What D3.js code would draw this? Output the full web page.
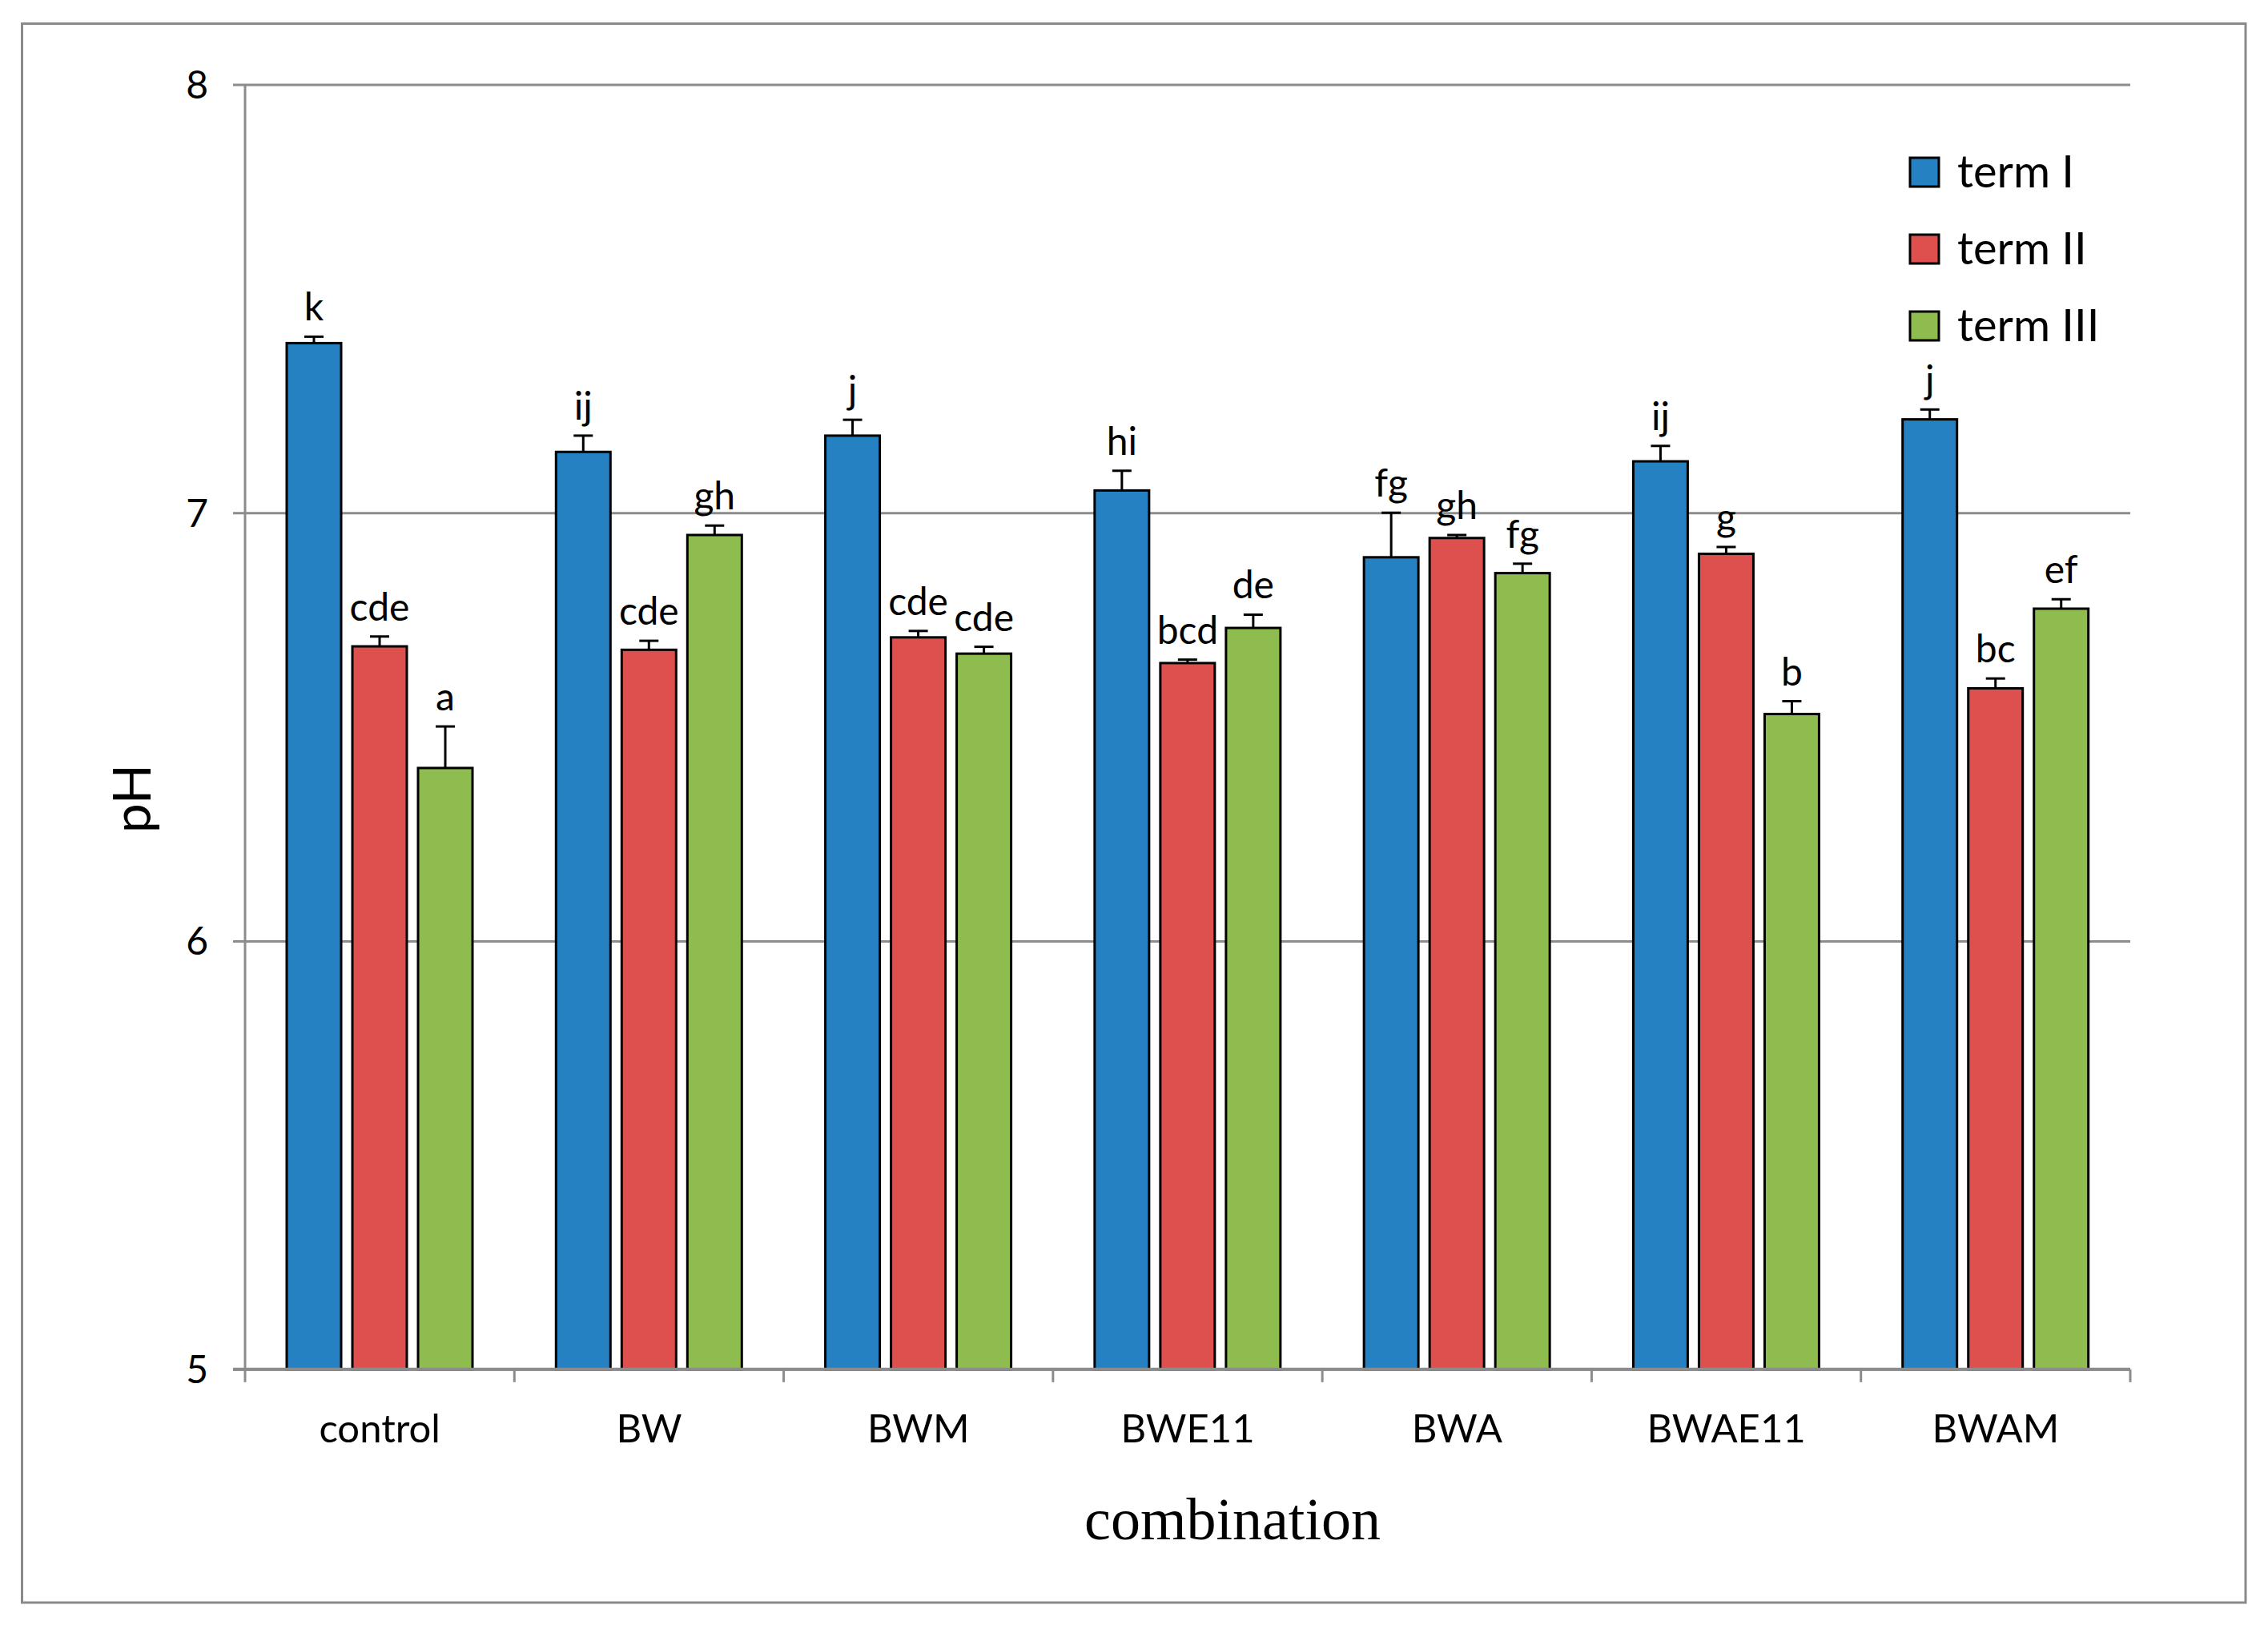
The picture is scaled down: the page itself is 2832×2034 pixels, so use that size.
<!DOCTYPE html>
<html>
<head>
<meta charset="utf-8">
<script src="https://cdn.jsdelivr.net/npm/d3@7"></script>
<style>
  html, body { margin: 0; padding: 0; background: #fff; }
  svg { display: block; }
</style>
</head>
<body>
<svg id="chart" width="2832" height="2034"></svg>
<script>
// ---------- data ----------
const categories = ["control", "BW", "BWM", "BWE11", "BWA", "BWAE11", "BWAM"];
const seriesNames = ["term I", "term II", "term III"];
const termI   = [7.396, 7.142, 7.180, 7.052, 6.896, 7.120, 7.218];
const termII  = [6.688, 6.680, 6.709, 6.649, 6.941, 6.904, 6.590];
const termIII = [6.404, 6.948, 6.671, 6.731, 6.859, 6.530, 6.776];
const errI   = [0.015, 0.038, 0.037, 0.046, 0.104, 0.036, 0.023];
const errII  = [0.023, 0.021, 0.015, 0.008, 0.007, 0.016, 0.023];
const errIII = [0.097, 0.022, 0.016, 0.031, 0.022, 0.030, 0.022];
const lettersI   = ["k", "ij", "j", "hi", "fg", "ij", "j"];
const lettersII  = ["cde", "cde", "cde", "bcd", "gh", "g", "bc"];
const lettersIII = ["a", "gh", "cde", "de", "fg", "b", "ef"];
const yTicks = [5, 6, 7, 8];
const colors = ["#2581c1", "#dd504e", "#8fbc4f"];
const xTitle = "combination";
const yTitle = "pH";

const values = [termI, termII, termIII];
const errors = [errI, errII, errIII];
const letters = [lettersI, lettersII, lettersIII];

// ---------- layout ----------
const svg = d3.select("#chart");
const plot = { left: 306, right: 2660, top: 105.4, bottom: 1709.8 };
const sansFont = "Lato, 'Open Sans', 'DejaVu Sans', sans-serif";

const x = d3.scaleBand().domain(categories).range([plot.left, plot.right]).padding(0);
const xs = d3.scaleBand().domain(d3.range(3)).range([52, 284]).paddingInner(0.171).paddingOuter(0);
const y = d3.scaleLinear().domain([5, 8]).range([plot.bottom, plot.top]);

// outer border
svg.append("rect")
  .attr("x", 27.5).attr("y", 29.5)
  .attr("width", 2804 - 27.5).attr("height", 2001 - 29.5)
  .attr("fill", "none").attr("stroke", "#8a8a8a").attr("stroke-width", 3);

// gridlines + y ticks
const yAxis = d3.axisLeft(y).tickValues(yTicks).tickSize(-(plot.right - plot.left + 15)).tickFormat(d3.format("d"));
const gy = svg.append("g").attr("transform", `translate(${plot.left - 15},0)`).call(yAxis);
gy.select(".domain").remove();
gy.selectAll(".tick line")
  .attr("stroke", "#8c8c8c").attr("stroke-width", 3);
gy.selectAll(".tick text")
  .attr("x", -31).attr("dy", "0.35em")
  .attr("font-family", sansFont).attr("font-size", 48).attr("fill", "#000");

// y axis line
svg.append("line")
  .attr("x1", plot.left).attr("x2", plot.left)
  .attr("y1", plot.top).attr("y2", plot.bottom)
  .attr("stroke", "#8c8c8c").attr("stroke-width", 3);

// bars
const flat = [];
categories.forEach((c, i) => {
  for (let s = 0; s < 3; s++) {
    flat.push({ cat: c, s, v: values[s][i], e: errors[s][i], l: letters[s][i] });
  }
});

const bx = d => x(d.cat) + xs(d.s);

svg.append("g").selectAll("rect")
  .data(flat).join("rect")
  .attr("x", d => bx(d))
  .attr("y", d => y(d.v))
  .attr("width", xs.bandwidth())
  .attr("height", d => y(5) - y(d.v))
  .attr("fill", d => colors[d.s])
  .attr("stroke", "#000").attr("stroke-width", 3);

// error bars (upward only)
const eg = svg.append("g").attr("stroke", "#000").attr("stroke-width", 3);
eg.selectAll("line.v").data(flat).join("line").attr("class", "v")
  .attr("x1", d => bx(d) + xs.bandwidth() / 2)
  .attr("x2", d => bx(d) + xs.bandwidth() / 2)
  .attr("y1", d => y(d.v))
  .attr("y2", d => y(d.v + d.e));
eg.selectAll("line.c").data(flat).join("line").attr("class", "c")
  .attr("x1", d => bx(d) + xs.bandwidth() / 2 - 12)
  .attr("x2", d => bx(d) + xs.bandwidth() / 2 + 12)
  .attr("y1", d => y(d.v + d.e))
  .attr("y2", d => y(d.v + d.e));

// letters
svg.append("g").selectAll("text")
  .data(flat).join("text")
  .attr("x", d => bx(d) + xs.bandwidth() / 2)
  .attr("y", d => y(d.v + d.e) - 20)
  .attr("text-anchor", "middle")
  .attr("font-family", sansFont).attr("font-size", 48).attr("fill", "#000")
  .text(d => d.l);

// x axis
const xAxis = d3.axisBottom(x).tickSize(0).tickPadding(0);
const gx = svg.append("g").attr("transform", `translate(0,${plot.bottom})`).call(xAxis);
gx.select(".domain").remove();
gx.selectAll(".tick text")
  .attr("y", 91)
  .attr("dy", 0)
  .attr("font-family", sansFont).attr("font-size", 49).attr("fill", "#000");

svg.append("line")
  .attr("x1", plot.left - 15).attr("x2", plot.right)
  .attr("y1", plot.bottom).attr("y2", plot.bottom)
  .attr("stroke", "#8c8c8c").attr("stroke-width", 4);

// category boundary ticks
const bounds = categories.map(c => x(c)).concat([plot.right]);
svg.append("g").selectAll("line")
  .data(bounds).join("line")
  .attr("x1", d => d).attr("x2", d => d)
  .attr("y1", plot.bottom).attr("y2", plot.bottom + 16)
  .attr("stroke", "#8c8c8c").attr("stroke-width", 3);

// axis titles
svg.append("text")
  .attr("x", 1539).attr("y", 1922)
  .attr("text-anchor", "middle")
  .attr("font-family", "'Liberation Serif', 'Times New Roman', serif")
  .attr("font-size", 74).attr("fill", "#000")
  .text(xTitle);

svg.append("text")
  .attr("transform", "translate(188,997) rotate(-90)")
  .attr("text-anchor", "middle")
  .attr("font-family", sansFont).attr("font-size", 66).attr("fill", "#000")
  .text(yTitle);

// legend
const lg = svg.append("g");
seriesNames.forEach((name, i) => {
  const cy = 215 + i * 96;
  lg.append("rect")
    .attr("x", 2385).attr("y", cy - 18)
    .attr("width", 36).attr("height", 36)
    .attr("fill", colors[i]).attr("stroke", "#000").attr("stroke-width", 3);
  lg.append("text")
    .attr("x", 2444).attr("y", cy + 19)
    .attr("font-family", sansFont).attr("font-size", 56).attr("fill", "#000")
    .text(name);
});
</script>
</body>
</html>
